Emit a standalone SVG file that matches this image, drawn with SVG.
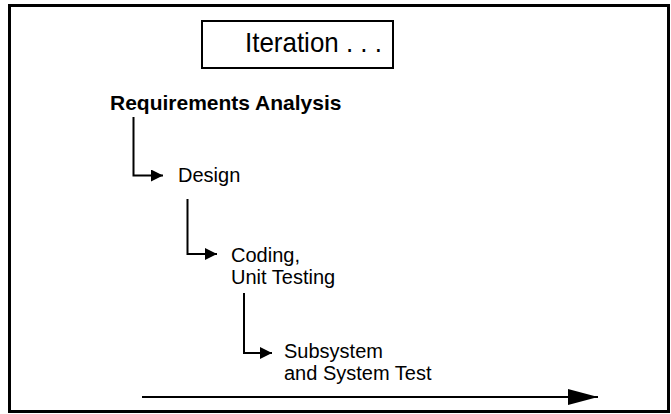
<svg xmlns="http://www.w3.org/2000/svg" width="671" height="414" viewBox="0 0 671 414">
  <style>
    .frame { fill: none; stroke: #000; stroke-width: 3; }
    .box { fill: #fff; stroke: #000; stroke-width: 2; }
    .lbl { font-family: "Liberation Sans", Arial, Helvetica, sans-serif; font-size: 20px; fill: #000; }
    .bold { font-weight: bold; font-size: 21px; }
    .conn { fill: none; stroke: #000; stroke-width: 2; }
  </style>
  <defs>
    <marker id="head" viewBox="0 0 12 12" refX="12" refY="6" markerWidth="12" markerHeight="12" markerUnits="userSpaceOnUse" orient="auto">
      <path d="M0,0 L12,6 L0,12 Z" fill="#000"/>
    </marker>
    <marker id="bighead" viewBox="0 0 30 16" refX="30" refY="8" markerWidth="30" markerHeight="16" markerUnits="userSpaceOnUse" orient="auto">
      <path d="M0,0 L30,8 L0,16 Z" fill="#000"/>
    </marker>
  </defs>

  <!-- outer border -->
  <rect class="frame" x="9.5" y="5.5" width="659" height="406"/>

  <g id="iteration">
    <rect class="box" x="202" y="21" width="191" height="47"/>
    <text class="lbl" x="245" y="52" style="font-size:28px" textLength="137" lengthAdjust="spacingAndGlyphs">Iteration . . .</text>
  </g>

  <g id="requirements">
    <text class="lbl bold" x="110" y="110">Requirements Analysis</text>
  </g>

  <g id="design">
    <text class="lbl" x="178" y="182">Design</text>
  </g>

  <g id="coding">
    <text class="lbl" x="231" y="262">Coding,</text>
    <text class="lbl" x="231" y="284">Unit Testing</text>
  </g>

  <g id="test">
    <text class="lbl" x="284" y="358">Subsystem</text>
    <text class="lbl" x="284" y="380">and System Test</text>
  </g>

  <g id="connectors">
    <path class="conn" d="M133.5,117 V175.5 H163" marker-end="url(#head)"/>
    <path class="conn" d="M187.5,199 V254 H217" marker-end="url(#head)"/>
    <path class="conn" d="M244,293 V353 H272" marker-end="url(#head)"/>
    <path class="conn" d="M142,397 H598" marker-end="url(#bighead)"/>
  </g>
</svg>
